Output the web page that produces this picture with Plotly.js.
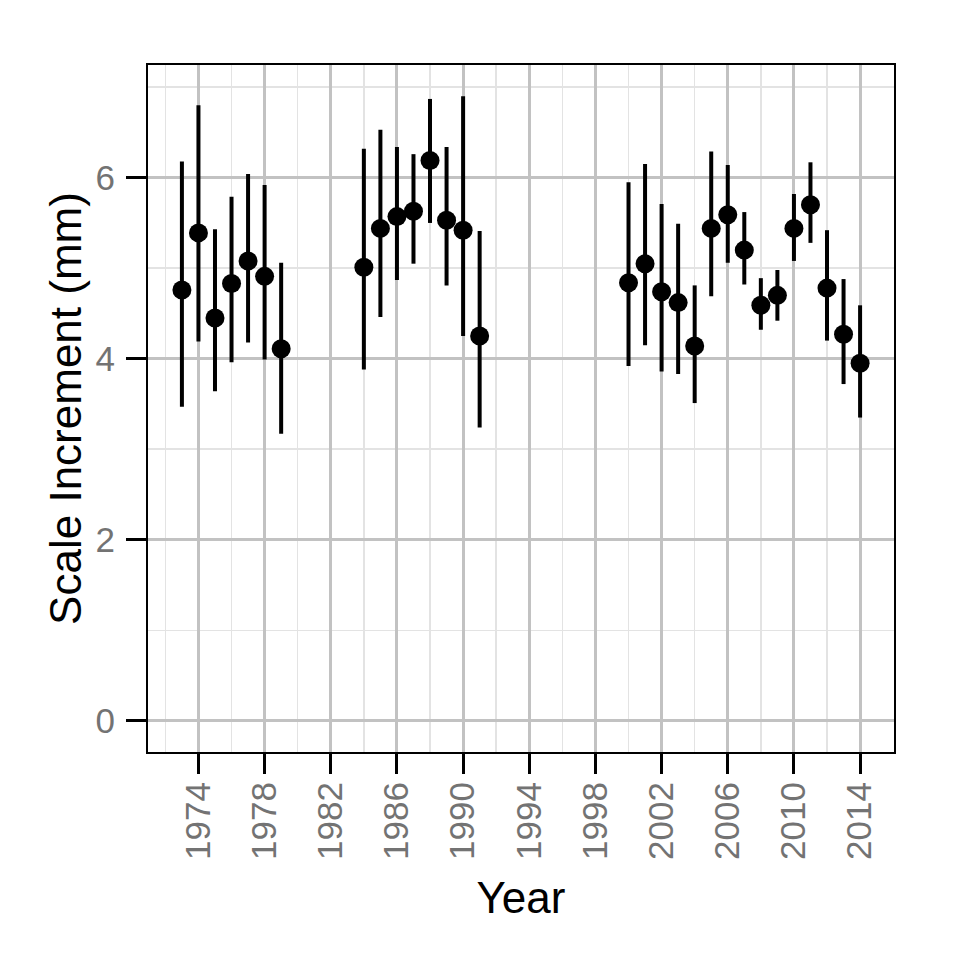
<!DOCTYPE html>
<html>
<head>
<meta charset="utf-8">
<script src="https://cdn.plot.ly/plotly-3.0.1.min.js"></script>
<style>html,body{margin:0;padding:0;background:#fff;}#chart{width:960px;height:960px;}</style>
</head>
<body>
<div id="chart"></div>
<script>
var years = [1973,1974,1975,1976,1977,1978,1979,
             1984,1985,1986,1987,1988,1989,1990,1991,
             2000,2001,2002,2003,2004,2005,2006,2007,2008,2009,2010,2011,2012,2013,2014];
var means = [4.76,5.39,4.45,4.83,5.08,4.91,4.11,
             5.01,5.44,5.57,5.63,6.19,5.53,5.42,4.25,
             4.84,5.05,4.74,4.62,4.14,5.44,5.59,5.20,4.59,4.70,5.44,5.70,4.78,4.27,3.95];
var upper = [6.18,6.80,5.43,5.79,6.04,5.92,5.06,
             6.32,6.53,6.34,6.26,6.87,6.34,6.90,5.41,
             5.95,6.15,5.71,5.49,4.81,6.29,6.14,5.62,4.89,4.98,5.82,6.17,5.42,4.88,4.59];
var lower = [3.47,4.19,3.64,3.96,4.18,3.99,3.17,
             3.88,4.46,4.87,5.05,5.50,4.81,4.25,3.24,
             3.92,4.15,3.86,3.83,3.51,4.69,5.06,4.82,4.32,4.42,5.08,5.28,4.20,3.72,3.35];

var errPlus = means.map(function(m,i){return upper[i]-m;});
var errMinus = means.map(function(m,i){return m-lower[i];});

var trace = {
  x: years, y: means, type: 'scatter', mode: 'markers',
  marker: {color: '#000', size: 19},
  error_y: {type: 'data', symmetric: false, array: errPlus, arrayminus: errMinus,
            thickness: 4, width: 0, color: '#000'},
  hoverinfo: 'x+y'
};

var FONT = 'Liberation Sans, Arial, Helvetica, sans-serif';
var layout = {
  width: 960, height: 960,
  margin: {l: 148, r: 66, t: 65, b: 208},
  paper_bgcolor: '#fff', plot_bgcolor: '#fff',
  showlegend: false,
  font: {family: FONT},
  xaxis: {
    range: [1970.95, 2016.05],
    tick0: 1974, dtick: 4, tickmode: 'linear',
    ticks: 'outside', ticklen: 20, tickwidth: 3, tickcolor: '#000',
    tickangle: -90, ticklabelstandoff: -6,
    tickfont: {size: 35, color: '#737373', family: FONT},
    showgrid: true, gridcolor: '#C2C2C2', gridwidth: 3,
    minor: {tick0: 1972, dtick: 4, showgrid: true, gridcolor: '#E3E3E3', gridwidth: 1.5, ticks: ''},
    zeroline: false,
    showline: true, linecolor: '#000', linewidth: 2, mirror: true,
    title: {text: 'Year', font: {size: 44, color: '#000', family: FONT}, standoff: 23}
  },
  yaxis: {
    range: [-0.345, 7.245],
    tick0: 0, dtick: 2, tickmode: 'linear',
    ticks: 'outside', ticklen: 20, tickwidth: 3, tickcolor: '#000',
    ticklabelstandoff: 4,
    tickfont: {size: 35, color: '#737373', family: FONT},
    showgrid: true, gridcolor: '#C2C2C2', gridwidth: 3,
    minor: {tick0: 1, dtick: 2, showgrid: true, gridcolor: '#E3E3E3', gridwidth: 1.5, ticks: ''},
    zeroline: false,
    showline: true, linecolor: '#000', linewidth: 2, mirror: true,
    title: {text: 'Scale Increment (mm)', font: {size: 44, color: '#000', family: FONT}, standoff: 0}
  }
};

Plotly.newPlot('chart', [trace], layout, {displayModeBar: false, staticPlot: true});
</script>
</body>
</html>
